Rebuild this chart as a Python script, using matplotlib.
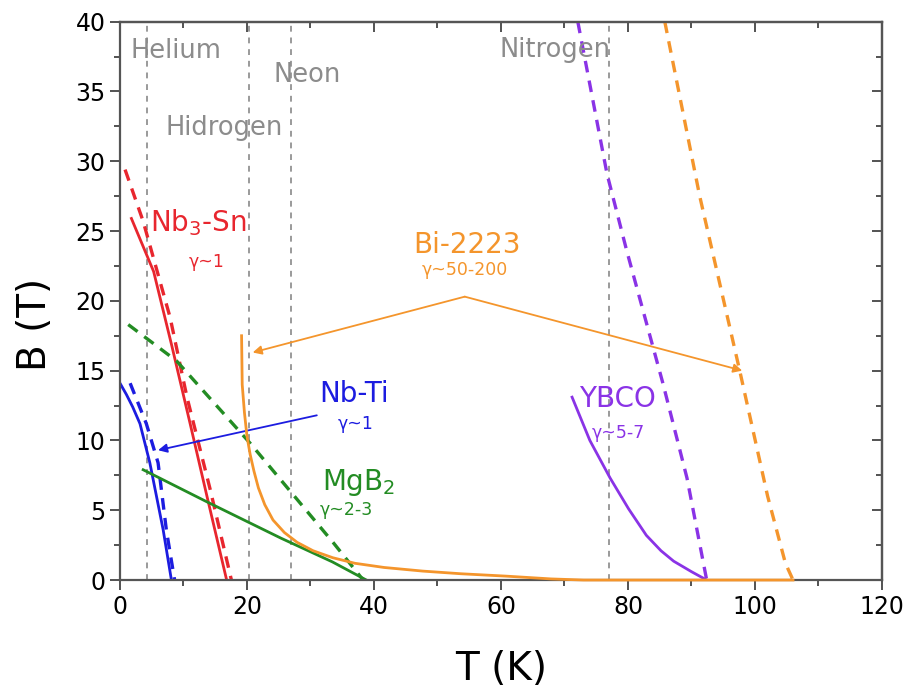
import numpy as np
import matplotlib
matplotlib.use("Agg")
import matplotlib.pyplot as plt
from matplotlib.ticker import MultipleLocator

# cores das curvas
vermelho = "#e8262e"
azul = "#1c1ce0"
verde = "#238c23"
laranja = "#f4952c"
roxo = "#8a33e6"
cinza = "#8c8c8c"

# temperaturas dos liquidos criogenicos (K)
gases = ["Helium", "Hidrogen", "Neon", "Nitrogen"]
gasT = [4.2, 20.3, 27.0, 77.0]

# Nb-Ti
nbtiT = [0.0, 1.0, 2.0, 3.15, 4.7, 6.8, 8.1]
nbtiB = [14.1, 13.3, 12.4, 11.2, 8.4, 3.6, 0.0]
nbtiTd = [1.6, 4.15, 6.0, 7.3, 8.6]
nbtiBd = [14.1, 11.2, 8.4, 3.6, 0.0]

# Nb3-Sn
nbsnT = [1.8, 5.3, 8.1, 11.05, 13.7, 16.8]
nbsnB = [25.9, 22.1, 16.9, 11.2, 6.0, 0.0]
nbsnTd = [0.8, 3.65, 7.9, 10.55, 14.2, 17.55]
nbsnBd = [29.4, 25.7, 18.8, 13.1, 6.5, 0.0]

# MgB2
mgbT = [3.65, 13.7, 25.35, 33.45, 38.8]
mgbB = [7.9, 5.6, 3.0, 1.3, 0.0]
mgbTd = [1.3, 8.9, 20.5, 28.4, 33.55, 38.3]
mgbBd = [18.3, 15.7, 9.8, 5.5, 2.7, 0.0]

# Bi-2223
biT = [19.15, 19.25, 19.6, 20.0, 20.5, 21.1, 21.8, 22.8, 24.1, 25.9, 27.9,
       30.4, 33.5, 37.0, 41.6, 47.7, 53.7, 60.8, 67.9, 73.0, 106.0]
biB = [17.5, 14.0, 12.0, 10.3, 9.0, 7.8, 6.6, 5.4, 4.3, 3.4, 2.7,
       2.1, 1.6, 1.2, 0.9, 0.64, 0.45, 0.28, 0.08, 0.0, 0.0]
biTd = [85.8, 91.3, 97.6, 102.0, 104.8, 106.0]
biBd = [40.0, 27.5, 15.0, 6.0, 1.2, 0.0]

# YBCO
ybcoT = [71.2, 74.0, 77.2, 80.1, 82.9, 85.2, 87.2, 90.0, 92.4]
ybcoB = [13.1, 10.0, 7.3, 5.1, 3.2, 2.1, 1.35, 0.6, 0.0]
ybcoTd = [72.1, 76.7, 79.8, 85.5, 89.3, 92.4]
ybcoBd = [40.0, 29.1, 23.6, 14.1, 7.3, 0.0]

plt.rcParams['font.family'] = ['DejaVu Sans']

fig = plt.figure(figsize=(9.11, 6.98), dpi=100)
ax = fig.add_axes([0.1317, 0.169, 0.8364, 0.800])

# linhas verticais dos gases
for t in gasT:
    ax.axvline(t, color="#9a9a9a", lw=1.4, ls=(0, (3, 3)), zorder=1)

tracejado = (0, (3.5, 2.5))
ax.plot(nbtiT, nbtiB, color=azul, lw=2)
ax.plot(nbtiTd, nbtiBd, color=azul, lw=2.4, ls=tracejado)
ax.plot(nbsnT, nbsnB, color=vermelho, lw=2)
ax.plot(nbsnTd, nbsnBd, color=vermelho, lw=2.4, ls=tracejado)
ax.plot(mgbT, mgbB, color=verde, lw=2)
ax.plot(mgbTd, mgbBd, color=verde, lw=2.4, ls=tracejado)
ax.plot(biT, biB, color=laranja, lw=2, clip_on=False, zorder=4)
ax.plot(biTd, biBd, color=laranja, lw=2.4, ls=tracejado)
ax.plot(ybcoT, ybcoB, color=roxo, lw=2)
ax.plot(ybcoTd, ybcoBd, color=roxo, lw=2.4, ls=tracejado)

# nomes dos gases
ax.text(1.6, 37.9, "Helium", color=cinza, fontsize=18.5, va="center")
ax.text(7.1, 32.4, "Hidrogen", color=cinza, fontsize=18.5, va="center")
ax.text(24.1, 36.2, "Neon", color=cinza, fontsize=18.5, va="center")
ax.text(59.8, 38.0, "Nitrogen", color=cinza, fontsize=18.5, va="center")

# rotulos dos materiais
ax.text(4.7, 25.6, "Nb$_3$-Sn", color=vermelho, fontsize=20, va="center")
ax.text(13.7, 22.8, "γ~1", color=vermelho, fontsize=12.5, ha="center", va="center")
ax.text(54.6, 24.0, "Bi-2223", color=laranja, fontsize=20, ha="center", va="center")
ax.text(54.3, 22.2, "γ~50-200", color=laranja, fontsize=12.5, ha="center", va="center")
ax.text(36.9, 13.3, "Nb-Ti", color=azul, fontsize=20, ha="center", va="center")
ax.text(37.1, 11.2, "γ~1", color=azul, fontsize=12.5, ha="center", va="center")
ax.text(37.6, 7.0, "MgB$_2$", color=verde, fontsize=20, ha="center", va="center")
ax.text(35.6, 5.0, "γ~2-3", color=verde, fontsize=12.5, ha="center", va="center")
ax.text(78.3, 13.0, "YBCO", color=roxo, fontsize=20, ha="center", va="center")
ax.text(78.5, 10.5, "γ~5-7", color=roxo, fontsize=12.5, ha="center", va="center")

# setas
seta = dict(arrowstyle="-|>", lw=1.3, mutation_scale=13, shrinkA=0, shrinkB=0)
ax.annotate("", xy=(20.9, 16.3), xytext=(54.3, 20.3), arrowprops=dict(seta, color=laranja))
ax.annotate("", xy=(98.0, 15.0), xytext=(54.3, 20.3), arrowprops=dict(seta, color=laranja))
ax.annotate("", xy=(6.0, 9.3), xytext=(31.0, 11.8), arrowprops=dict(seta, color=azul))

ax.set_xlim(0, 120)
ax.set_ylim(0, 40)
ax.xaxis.set_major_locator(MultipleLocator(20))
ax.xaxis.set_minor_locator(MultipleLocator(10))
ax.yaxis.set_major_locator(MultipleLocator(5))
ax.yaxis.set_minor_locator(MultipleLocator(2.5))
ax.tick_params(which="both", direction="out", color="#444444", labelsize=17, width=1.3)
ax.tick_params(which="major", length=7)
ax.tick_params(which="minor", length=4)

# eixos de cima e da direita so com ticks para dentro
ax2 = ax.secondary_xaxis("top")
ax2.xaxis.set_major_locator(MultipleLocator(20))
ax2.xaxis.set_minor_locator(MultipleLocator(10))
ax2.tick_params(which="both", direction="in", color="#444444", labeltop=False, width=1.3)
ax2.tick_params(which="major", length=7)
ax2.tick_params(which="minor", length=4)
ax3 = ax.secondary_yaxis("right")
ax3.yaxis.set_major_locator(MultipleLocator(5))
ax3.yaxis.set_minor_locator(MultipleLocator(2.5))
ax3.tick_params(which="both", direction="in", color="#444444", labelright=False, width=1.3)
ax3.tick_params(which="major", length=7)
ax3.tick_params(which="minor", length=4)

for eixo in [ax, ax2, ax3]:
    for lado in eixo.spines:
        eixo.spines[lado].set_color("#555555")
        eixo.spines[lado].set_linewidth(1.6)

ax.set_xlabel("T (K)", fontsize=28)
ax.set_ylabel("B (T)", fontsize=28)
ax.xaxis.set_label_coords(0.5, -0.125)
ax.yaxis.set_label_coords(-0.087, 0.457)

fig.savefig("out.png", dpi=100)
